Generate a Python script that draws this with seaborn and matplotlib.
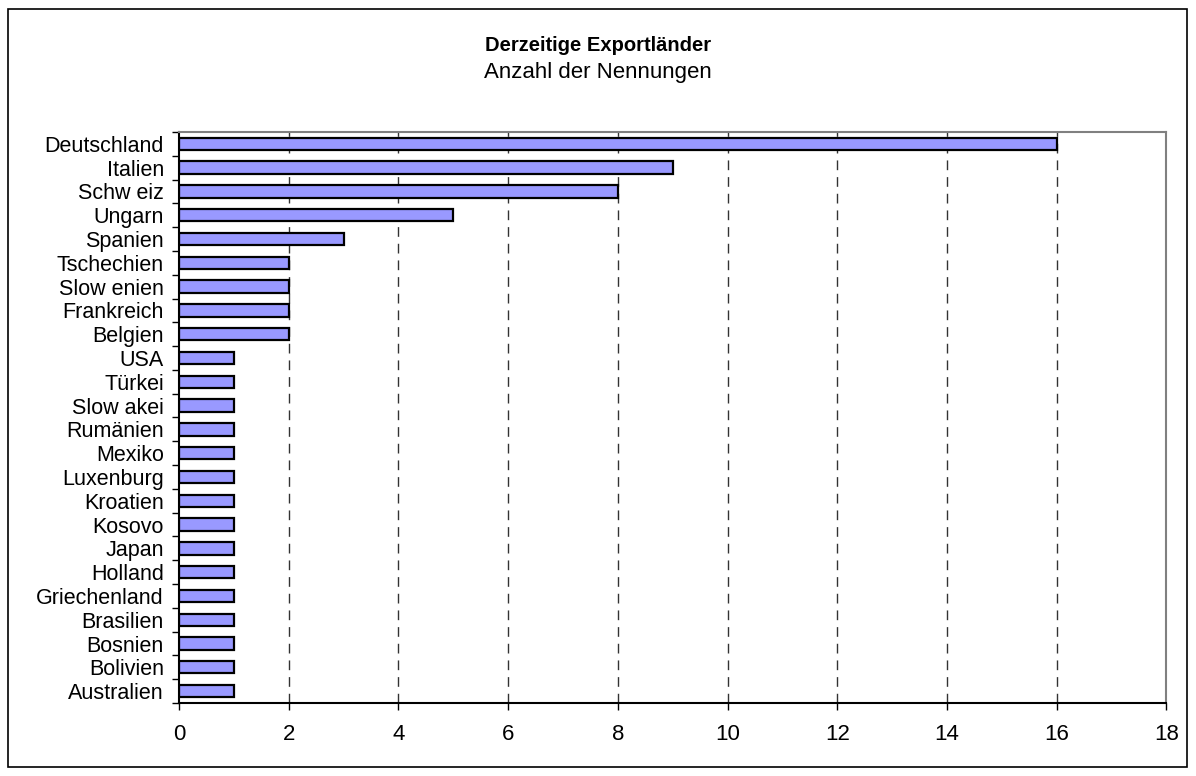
import numpy as np
import pandas as pd
import matplotlib
matplotlib.use("Agg")
import matplotlib.pyplot as plt
import seaborn as sns
from matplotlib.patches import Rectangle

# Data (top to bottom)
countries = ["Deutschland", "Italien", "Schw eiz", "Ungarn", "Spanien", "Tschechien",
             "Slow enien", "Frankreich", "Belgien", "USA", "Türkei", "Slow akei",
             "Rumänien", "Mexiko", "Luxenburg", "Kroatien", "Kosovo", "Japan",
             "Holland", "Griechenland", "Brasilien", "Bosnien", "Bolivien", "Australien"]
counts = [16, 9, 8, 5, 3, 2, 2, 2, 2, 1, 1, 1, 1, 1, 1, 1, 1, 1, 1, 1, 1, 1, 1, 1]
x_ticks = [0, 2, 4, 6, 8, 10, 12, 14, 16, 18]

sns.set_style("white")
plt.rcParams['font.family'] = ['Liberation Sans', 'DejaVu Sans']
plt.rcParams['text.color'] = 'black'
plt.rcParams['xtick.color'] = 'black'
plt.rcParams['ytick.color'] = 'black'

df = pd.DataFrame({"Land": countries, "Nennungen": counts})

fig = plt.figure(figsize=(11.96, 7.76), dpi=100)
ax = fig.add_axes([0.1497, 0.0941, 0.8256, 0.7358])

sns.barplot(data=df, y="Land", x="Nennungen", orient="h", color="#9999FF",
            edgecolor="black", linewidth=1.6, width=0.52, saturation=1, ax=ax)

ax.set_xlim(0, 18)
ax.set_ylim(len(countries) - 0.5, -0.5)
ax.set_xticks(x_ticks)
ax.set_xticklabels([str(t) for t in x_ticks], fontsize=16)
ax.set_xlabel("")
ax.set_ylabel("")

# y tick marks at category boundaries, labels centered
ax.set_yticks(np.arange(-0.5, len(countries) + 0.5, 1), minor=True)
ax.tick_params(axis="y", which="major", length=0, labelsize=15.5, pad=11)
ax.tick_params(axis="y", which="minor", length=5, width=1, color="black", direction="out", left=True)
ax.tick_params(axis="x", which="major", length=5, width=1, color="black", direction="out",
               bottom=True, labelsize=16, pad=10)

# dashed vertical gridlines
for t in x_ticks[1:-1]:
    ax.axvline(t, color="#333333", linestyle=(0, (7, 5)), linewidth=1, zorder=0)

for side in ["top", "right"]:
    ax.spines[side].set_color("#808080")
    ax.spines[side].set_linewidth(1.5)
for side in ["left", "bottom"]:
    ax.spines[side].set_color("black")
    ax.spines[side].set_linewidth(1.5)

fig.text(0.5, 0.942, "Derzeitige Exportländer", ha="center", va="center",
         fontsize=14.5, fontweight="bold")
fig.text(0.5, 0.907, "Anzahl der Nennungen", ha="center", va="center", fontsize=16)

# outer frame around the chart
fig.add_artist(Rectangle((8 / 1196, 1 - 767 / 776), 1179 / 1196, 758 / 776,
                         transform=fig.transFigure, fill=False, edgecolor="black", linewidth=1.2))

fig.savefig("out.png", dpi=100)
